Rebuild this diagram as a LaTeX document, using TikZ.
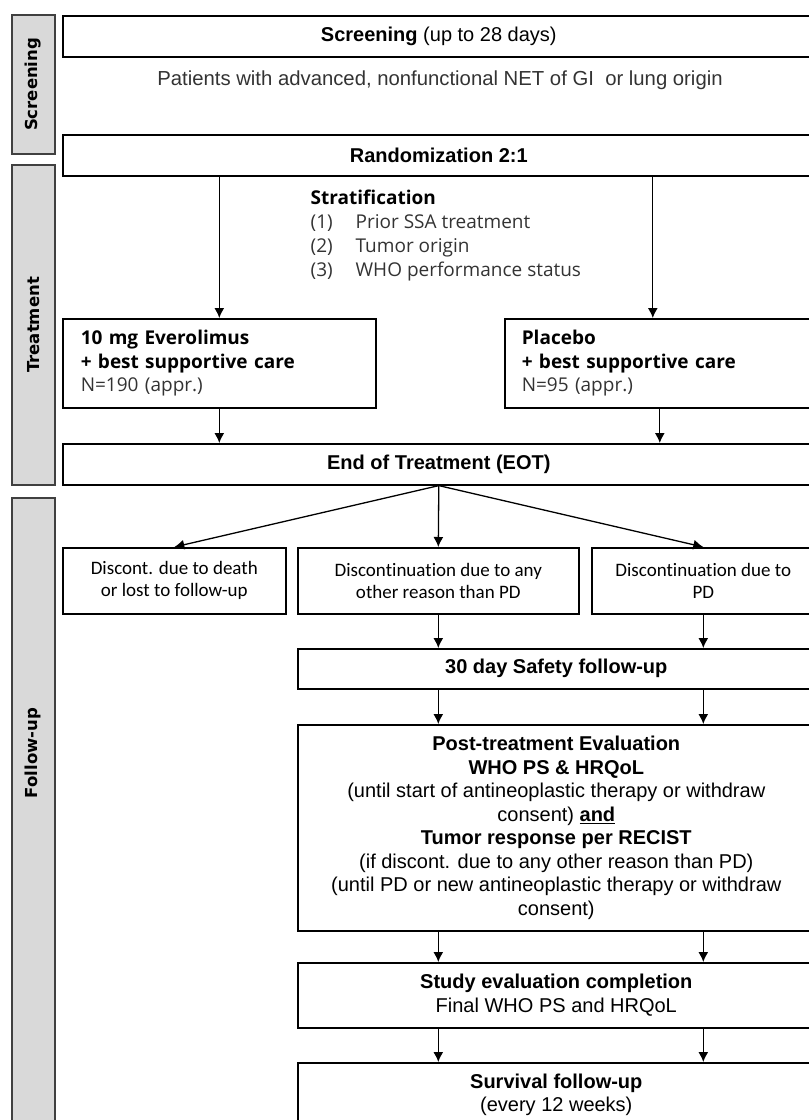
\documentclass[tikz,border=0pt]{standalone}
\usepackage{fontspec}
\setmainfont{Liberation Sans}
\newfontfamily\calibri[Ligatures=NoCommon]{Carlito}
\newfontfamily\opensans{Open Sans}
\newfontfamily\verdana{DejaVu Sans}
\usetikzlibrary{positioning,arrows.meta}
\definecolor{bargray}{HTML}{D9D9D9}
\definecolor{txtgray}{HTML}{333333}

\tikzset{
  box/.style={draw, line width=1.6pt, anchor=north west, inner sep=0pt, align=center},
  phasebar/.style={draw=black!75, fill=bargray, line width=1.8pt, anchor=north west, inner sep=0pt},
  phaselabel/.style={rotate=90, font=\verdana\bfseries\fontsize{16.5}{18}\selectfont},
  arm/.style={box, align=left, inner xsep=18pt, font=\opensans\fontsize{19}{23.5}\selectfont},
  reason/.style={box, font=\calibri\fontsize{19}{22}\selectfont},
}

\begin{document}
\begin{tikzpicture}[x=1pt, y=-1pt, line width=1.3pt, >={Latex[length=10pt,width=10pt]},
  font=\fontsize{20}{23.5}\selectfont]
\useasboundingbox (0,0) rectangle (809,1120);

% phase bars on the left
\node[phasebar, minimum width=43pt, minimum height=139pt] (barscr) at (11,14) {};
\node[phasebar, minimum width=43pt, minimum height=320pt] (bartrt) at (11,164) {};
\node[phasebar, minimum width=43pt, minimum height=660pt] (barfup) at (11,497) {};
\node[phaselabel] (labscr) at (barscr.center) {Screening};
\node[phaselabel] (labtrt) at (bartrt.center) {Treatment};
\node[phaselabel] (labfup) at (32.5,753) {Follow-up};

% screening and randomization
\node[box, minimum width=752pt, minimum height=41pt] (screen) at (62,15) {\textbf{Screening} (up to 28 days)};
\node[text=txtgray, font=\fontsize{20.3}{23.5}\selectfont] (pat) at (440,80) {Patients with advanced, nonfunctional NET of GI\ \ or lung origin};
\node[box, minimum width=752pt, minimum height=41pt] (rand) at (62,134) {\textbf{Randomization 2:1}};

\node[anchor=north west, align=left, inner sep=0pt, font=\opensans\fontsize{19}{24}\selectfont] (strat) at (310,189) {%
  \textbf{Stratification}\\
  {\color{txtgray}\makebox[45pt][l]{(1)}Prior SSA treatment}\\
  {\color{txtgray}\makebox[45pt][l]{(2)}Tumor origin}\\
  {\color{txtgray}\makebox[45pt][l]{(3)}WHO performance status}};

% the two arms
\node[arm, text width=277pt, minimum height=89pt] (evero) at (62,318) {%
  \textbf{10 mg Everolimus}\\ \textbf{+ best supportive care}\\ {\color{txtgray}N=190 (appr.)}};
\node[arm, text width=276pt, inner xsep=17pt, minimum height=89pt] (plac) at (504,318) {%
  \textbf{Placebo}\\ \textbf{+ best supportive care}\\ {\color{txtgray}N=95 (appr.)}};
\coordinate (placin) at ([xshift=-7pt]plac.north);

\node[box, minimum width=752pt, minimum height=41pt] (eot) at (62,443) {\textbf{End of Treatment (EOT)}};

\draw[->] (rand.south -| evero.north) -- (evero.north);
\draw[->] (rand.south -| placin) -- (placin);
\draw[->] (evero.south) -- (evero.south |- eot.north);
\draw[->] (plac.south) -- (plac.south |- eot.north);

% reasons for discontinuation
\node[reason, minimum width=223pt, minimum height=66pt] (death) at (62,547) {Discont. due to death\\ or lost to follow-up};
\node[reason, minimum width=281pt, minimum height=66pt] (any) at (297,547) {Discontinuation due to any\\ other reason than PD};
\node[reason, minimum width=223pt, minimum height=66pt] (pd) at (591,547) {Discontinuation due to\\ PD};

\draw[->] (eot.south) -- (death.north);
\draw[->] (eot.south) -- (any.north);
\draw[->] (eot.south) -- (pd.north);

% follow-up chain
\node[box, minimum width=517pt, minimum height=40pt] (safe) at (297,648) {\textbf{30 day Safety follow-up}};
\node[box, minimum width=517pt, minimum height=206pt] (post) at (297,724) {%
  \textbf{Post-treatment Evaluation}\\
  \textbf{WHO PS \& HRQoL}\\
  (until start of antineoplastic therapy or withdraw\\
  consent) \textbf{\underline{and}}\\
  \textbf{Tumor response per RECIST}\\
  (if discont. due to any other reason than PD)\\
  (until PD or new antineoplastic therapy or withdraw\\
  consent)};
\node[box, minimum width=517pt, minimum height=65pt] (study) at (297,962) {%
  \textbf{Study evaluation completion}\\ Final WHO PS and HRQoL};
\node[box, minimum width=517pt, minimum height=64pt] (surv) at (297,1062) {%
  \textbf{Survival follow-up}\\ (every 12 weeks)};

\draw[->] (any.south) -- (any.south |- safe.north);
\draw[->] (pd.south) -- (pd.south |- safe.north);
\foreach \col in {any,pd} {
  \draw[->] (safe.south -| \col) -- (post.north -| \col);
  \draw[->] (post.south -| \col) -- (study.north -| \col);
  \draw[->] (study.south -| \col) -- (surv.north -| \col);
}

\end{tikzpicture}
\end{document}
